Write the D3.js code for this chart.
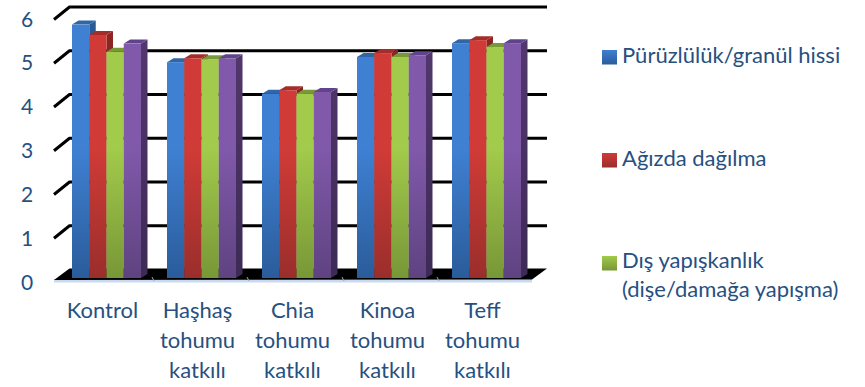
<!DOCTYPE html>
<html lang="tr">
<head>
<meta charset="utf-8">
<script src="https://cdn.jsdelivr.net/npm/d3@7"></script>
<style>
  html, body { margin: 0; padding: 0; background: #fff; }
  svg { display: block; }
  text { font-family: Lato, "Open Sans", sans-serif; fill: #27507f; }
</style>
</head>
<body>
<svg id="chart" width="865" height="387"></svg>
<script>
// Chart data
const categories = ["Kontrol", "Haşhaş tohumu katkılı", "Chia tohumu katkılı", "Kinoa tohumu katkılı", "Teff tohumu katkılı"];
const categoryLines = [["Kontrol"], ["Haşhaş", "tohumu", "katkılı"], ["Chia", "tohumu", "katkılı"], ["Kinoa", "tohumu", "katkılı"], ["Teff", "tohumu", "katkılı"]];
const roughness = [5.87, 5.00, 4.27, 5.12, 5.44];
const mouthBreakdown = [5.63, 5.09, 4.35, 5.21, 5.51];
const stickiness = [5.24, 5.07, 4.27, 5.12, 5.35];
const fourthSeries = [5.43, 5.09, 4.31, 5.16, 5.44];
const yTicks = [0, 1, 2, 3, 4, 5, 6];
const legendEntries = [
  { key: 0, lines: ["Pürüzlülük/granül hissi"] },
  { key: 1, lines: ["Ağızda dağılma"] },
  { key: 2, lines: ["Dış yapışkanlık", "(dişe/damağa yapışma)"] }
];
const seriesValues = [roughness, mouthBreakdown, stickiness, fourthSeries];
const palette = [
  { top: "#3f80d2", bottom: "#2a5c9a", cap: "#2f66a8", sideTop: "#2b5a96", sideBottom: "#1f4470" },
  { top: "#d03b37", bottom: "#9a2e2b", cap: "#a42c29", sideTop: "#8f2523", sideBottom: "#6e1f1d" },
  { top: "#a2ca4b", bottom: "#789737", cap: "#789a36", sideTop: "#6f8c32", sideBottom: "#566d27" },
  { top: "#8059aa", bottom: "#5f4380", cap: "#60438a", sideTop: "#54396f", sideBottom: "#3d2a55" }
];

const svg = d3.select("#chart");

// Pseudo-3D projection: depth of the wall and depth of a single bar
const wallDx = 15, wallDy = 12.5;
const barDx = 6.5, barDy = 4;

const yBar = d3.scaleLinear().domain([0, 6]).range([278, 19]);
const yWall = d3.scaleLinear().domain([0, 6]).range([269.5, 7]);
const yLabel = d3.scaleLinear().domain([0, 6]).range([282, 19]);
const x0 = d3.scaleBand().domain(categories).range([59, 534]).paddingInner(26 / 95).paddingOuter(13 / 95);
const x1 = d3.scaleBand().domain(d3.range(seriesValues.length)).range([0, x0.bandwidth()]);

const wallLeft = 69.5, wallRight = 547;

// Vertical gradients for bar faces, sides and legend swatches
const defs = svg.append("defs");
palette.forEach((c, i) => {
  const face = defs.append("linearGradient").attr("id", `face${i}`).attr("gradientUnits", "userSpaceOnUse")
    .attr("x1", 0).attr("x2", 0).attr("y1", 20).attr("y2", 278);
  face.append("stop").attr("offset", "0").attr("stop-color", c.top);
  face.append("stop").attr("offset", "0.5").attr("stop-color", c.top);
  face.append("stop").attr("offset", "1").attr("stop-color", c.bottom);
  const side = defs.append("linearGradient").attr("id", `side${i}`).attr("gradientUnits", "userSpaceOnUse")
    .attr("x1", 0).attr("x2", 0).attr("y1", 20).attr("y2", 278);
  side.append("stop").attr("offset", "0").attr("stop-color", c.sideTop);
  side.append("stop").attr("offset", "1").attr("stop-color", c.sideBottom);
  const swatch = defs.append("linearGradient").attr("id", `swatch${i}`).attr("x1", 0).attr("x2", 0).attr("y1", 0).attr("y2", 1);
  swatch.append("stop").attr("offset", "0").attr("stop-color", c.top);
  swatch.append("stop").attr("offset", "1").attr("stop-color", c.bottom);
});

// Base strip under the floor
svg.append("rect").attr("x", 54).attr("y", 279).attr("width", 478).attr("height", 3.5).attr("fill", "#c9daf0");

// Floor
svg.append("path")
  .attr("d", d3.line()([[54, yWall(0) + wallDy - 2], [wallLeft, yWall(0) - 1], [wallRight, yWall(0) - 1], [wallRight - wallDx, yWall(0) + wallDy - 2.5]]) + "Z")
  .attr("fill", "#000");

// Category ticks along the base
svg.append("g").selectAll("line").data(categories.slice(1)).join("line")
  .attr("x1", d => x0(d) - 13).attr("x2", d => x0(d) - 15)
  .attr("y1", 281).attr("y2", 277)
  .attr("stroke", "#9aa7b8").attr("stroke-width", 1);

// Gridlines on the back wall with their left-wall returns
const grid = svg.append("g").attr("stroke", "#000").attr("stroke-width", 3).attr("fill", "none").attr("stroke-linejoin", "round");
grid.selectAll("path").data(yTicks.filter(t => t > 0)).join("path")
  .attr("d", t => d3.line()([[54, yWall(t) + wallDy], [wallLeft, yWall(t)], [wallRight, yWall(t)]]));

// Bars: each one is a front face, a top cap and a right side
const groups = svg.append("g").selectAll("g").data(categories).join("g")
  .attr("transform", d => `translate(${x0(d)},0)`);

seriesValues.forEach((values, s) => {
  const bar = groups.append("g");
  const x = x1(s), w = x1.bandwidth();
  bar.append("path").attr("fill", `url(#side${s})`)
    .attr("d", (d, i) => {
      const t = yBar(values[i]);
      return d3.line()([[x + w, t], [x + w + barDx, t - barDy], [x + w + barDx, yBar(0) - barDy], [x + w, yBar(0)]]) + "Z";
    });
  bar.append("path").attr("fill", palette[s].cap)
    .attr("d", (d, i) => {
      const t = yBar(values[i]);
      return d3.line()([[x, t], [x + barDx, t - barDy], [x + w + barDx, t - barDy], [x + w, t]]) + "Z";
    });
  bar.append("rect").attr("fill", `url(#face${s})`)
    .attr("x", x).attr("width", w)
    .attr("y", (d, i) => yBar(values[i]))
    .attr("height", (d, i) => yBar(0) - yBar(values[i]));
});

// Value axis labels
svg.append("g").selectAll("text").data(yTicks).join("text")
  .attr("x", 27).attr("y", d => yLabel(d) + 7.5)
  .attr("text-anchor", "middle").attr("font-size", 21).text(d => d);

// Category labels
const catLabels = svg.append("g").selectAll("text").data(categories).join("text")
  .attr("text-anchor", "middle").attr("font-size", 22);
catLabels.selectAll("tspan").data((d, i) => categoryLines[i]).join("tspan")
  .attr("x", function () { return x0(d3.select(this.parentNode).datum()) + x0.bandwidth() / 2 - 4; })
  .attr("y", (d, i) => 318 + i * 30)
  .text(d => d);

// Legend
const legendY = [50, 153, 256];
const legendText = [62.7, 166, 268];
const legend = svg.append("g").selectAll("g").data(legendEntries).join("g");
legend.append("rect").attr("x", 602).attr("width", 15).attr("height", 14.5)
  .attr("y", (d, i) => legendY[i]).attr("fill", d => `url(#swatch${d.key})`);
legend.each(function (d, i) {
  d3.select(this).selectAll("text").data(d.lines).join("text")
    .attr("x", 622)
    .attr("y", (l, j) => legendText[i] + j * 29)
    .attr("font-size", 22).text(l => l);
});
</script>
</body>
</html>
